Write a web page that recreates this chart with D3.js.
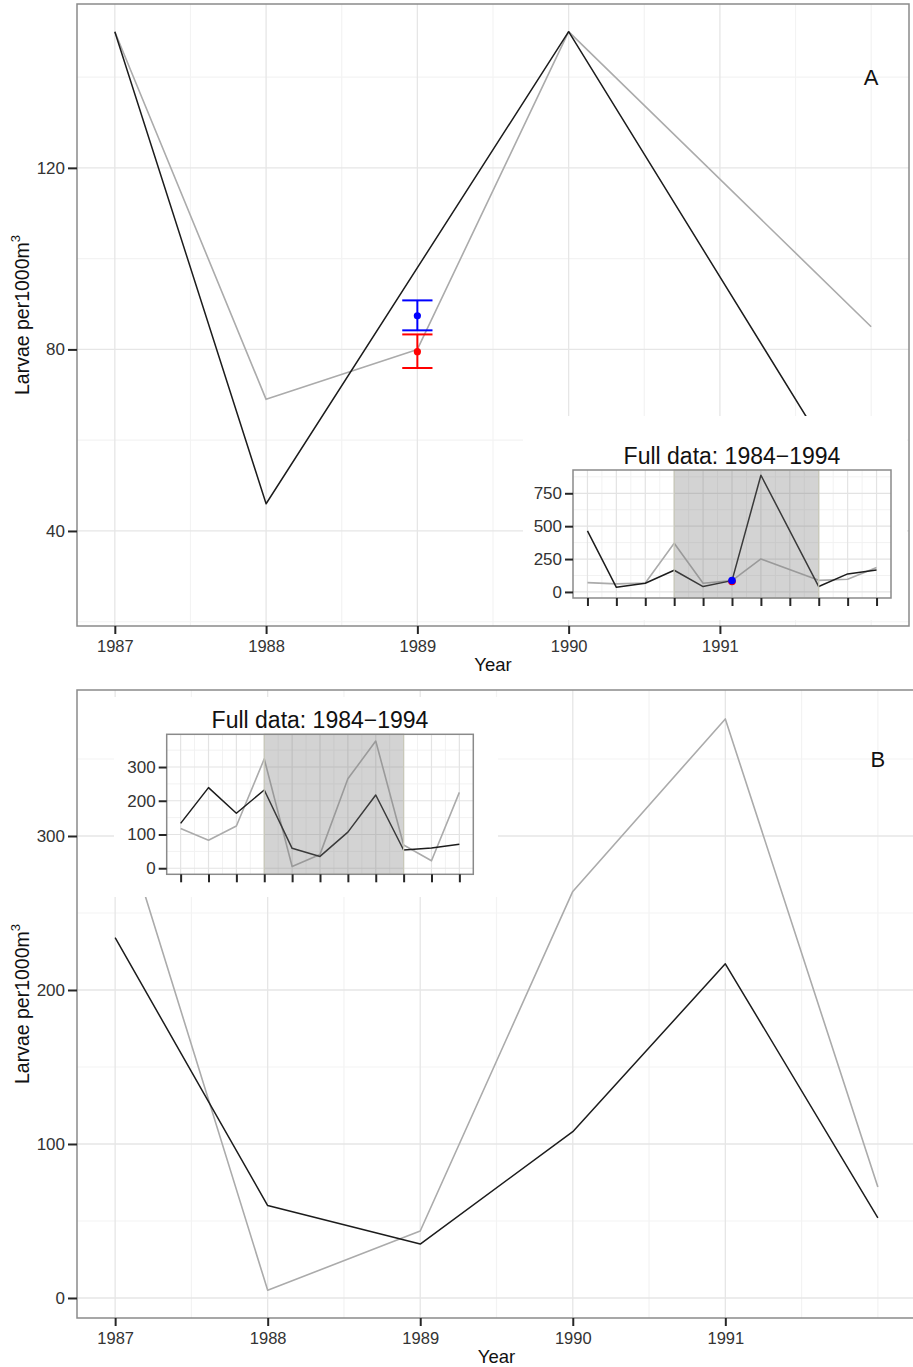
<!DOCTYPE html>
<html>
<head>
<meta charset="utf-8">
<script src="https://cdn.jsdelivr.net/npm/d3@7"></script>
<style>
  body { margin: 0; background: #fff; }
  text { font-family: "Liberation Sans", Arial, Helvetica, sans-serif; }
</style>
</head>
<body>
<script>
// years in the zoomed panels
const years = [1987, 1988, 1989, 1990, 1991, 1992];
const yearTicks = [1987, 1988, 1989, 1990, 1991];
// years in the small "full data" insets
const fullYears = [1984, 1985, 1986, 1987, 1988, 1989, 1990, 1991, 1992, 1993, 1994];
const shadeYears = [1987, 1992];

// panel A (null = no observation that year)
const blackA = [150, 46, null, 150, null, 42];
const greyA = [150, 69, 80, 150, null, 85];
const ticksA = [40, 80, 120];
const minorA = [20, 60, 100, 140];

// estimates for 1989: [mean, lower, upper]
const estYear = 1989;
const blueEst = [87.4, 84.2, 90.8];
const redEst = [79.5, 75.9, 83.3];

// panel A inset, 1984-1994
const fullBlackA = [464, 35, 66, 165, 41, 86, 887, null, 41, 137, 167];
const fullGreyA = [71, 61, 68, 370, 66, 86, 251, null, 88, 96, 185];
const fullTicksA = [0, 250, 500, 750];
const fullMinorA = [125, 375, 625, 875];

// panel B
const blackB = [234, 60, 35, 108, 217, 52];
const greyB = [324, 5, 43.5, 264, 376, 72];
const ticksB = [0, 100, 200, 300];
const minorB = [50, 150, 250, 350];

// panel B inset, 1984-1994
const fullBlackB = [133, 239, 163, 232, 59, 35, 107, 217, 54, 60, 71];
const fullGreyB = [118, 83, 125, 324, 5, 41, 265, 377, 69, 22, 225];
const fullTicksB = [0, 100, 200, 300];
const fullMinorB = [50, 150, 250, 350];

const svg = d3.select('body').append('svg')
  .attr('width', 913)
  .attr('height', 1367);

const pairs = (xs, ys) => xs.map((x, i) => [x, ys[i]]).filter(d => d[1] != null);

const BLACK = '#1c1c1c';
const GREY = '#ababab';
const TEXT = '#333';

function grid(g, x, y, xs, ys, colour, width) {
  const [x0, x1] = x.range();
  const [y1, y0] = y.range();
  g.selectAll(null).data(xs.filter(v => x(v) > x0 && x(v) < x1)).enter()
    .append('line')
      .attr('x1', d => x(d)).attr('x2', d => x(d))
      .attr('y1', y0).attr('y2', y1)
      .attr('stroke', colour).attr('stroke-width', width);
  g.selectAll(null).data(ys.filter(v => y(v) > y0 && y(v) < y1)).enter()
    .append('line')
      .attr('y1', d => y(d)).attr('y2', d => y(d))
      .attr('x1', x0).attr('x2', x1)
      .attr('stroke', colour).attr('stroke-width', width);
}

function drawLine(g, x, y, data, colour, width) {
  g.append('path')
    .datum(data)
    .attr('fill', 'none')
    .attr('stroke', colour)
    .attr('stroke-width', width)
    .attr('stroke-linejoin', 'round')
    .attr('d', d3.line().x(d => x(d[0])).y(d => y(d[1])));
}

function styleAxis(ax, size) {
  ax.select('.domain').remove();
  ax.selectAll('.tick line').attr('stroke', '#262626').attr('stroke-width', 2);
  ax.selectAll('.tick text')
    .attr('fill', TEXT)
    .attr('font-size', size)
    .attr('font-family', '"Liberation Sans", Arial, sans-serif');
}

// one of the two big panels
function mainPanel(o) {
  const x = d3.scaleLinear().domain([1986.75, 1992.25]).range([o.left, o.right]);
  const y = d3.scaleLinear().domain(o.yDomain).range([o.bottom, o.top]);
  const g = svg.append('g');

  g.append('rect')
    .attr('x', o.left).attr('y', o.top)
    .attr('width', o.right - o.left).attr('height', o.bottom - o.top)
    .attr('fill', '#fff');

  const minorX = d3.range(1987.5, 1992, 1).concat([1992]);
  grid(g, x, y, minorX, o.minor, '#f3f3f3', 1.2);
  grid(g, x, y, yearTicks, o.ticks, '#e6e6e6', 1.3);

  const clip = 'clip' + o.name;
  g.append('clipPath').attr('id', clip)
    .append('rect')
      .attr('x', o.left).attr('y', o.top)
      .attr('width', o.right - o.left).attr('height', o.bottom - o.top);
  const lines = g.append('g').attr('clip-path', `url(#${clip})`);
  drawLine(lines, x, y, pairs(years, o.grey), GREY, 1.6);
  drawLine(lines, x, y, pairs(years, o.black), BLACK, 1.5);

  if (o.est) {
    o.est.forEach(e => {
      const [m, lo, hi] = e.values;
      const eb = g.append('g').attr('stroke', e.colour).attr('stroke-width', 2);
      eb.append('line')
        .attr('x1', x(estYear)).attr('x2', x(estYear))
        .attr('y1', y(lo)).attr('y2', y(hi));
      [lo, hi].forEach(v => {
        eb.append('line')
          .attr('x1', x(estYear - 0.1)).attr('x2', x(estYear + 0.1))
          .attr('y1', y(v)).attr('y2', y(v));
      });
      g.append('circle')
        .attr('cx', x(estYear)).attr('cy', y(m)).attr('r', 3.6)
        .attr('fill', e.colour);
    });
  }

  g.append('text')
    .attr('x', x(1992)).attr('y', y(o.letterY))
    .attr('dy', '0.36em')
    .attr('text-anchor', 'middle')
    .attr('font-size', 22)
    .attr('fill', '#111')
    .text(o.name);

  g.append('rect')
    .attr('x', o.left).attr('y', o.top)
    .attr('width', o.right - o.left).attr('height', o.bottom - o.top)
    .attr('fill', 'none').attr('stroke', '#8a8a8a').attr('stroke-width', 1.5);

  const xAxis = g.append('g')
    .attr('transform', `translate(0, ${o.bottom})`)
    .call(d3.axisBottom(x).tickValues(yearTicks).tickSize(8).tickPadding(6).tickFormat(d3.format('d')));
  styleAxis(xAxis, 16.5);

  const yAxis = g.append('g')
    .attr('transform', `translate(${o.left}, 0)`)
    .call(d3.axisLeft(y).tickValues(o.ticks).tickSize(9).tickPadding(3));
  styleAxis(yAxis, 17);

  g.append('text')
    .attr('x', (o.left + o.right) / 2).attr('y', o.bottom + 45)
    .attr('text-anchor', 'middle')
    .attr('font-size', 18.5)
    .attr('fill', '#111')
    .text('Year');

  const yt = g.append('text')
    .attr('transform', `translate(29, ${(o.top + o.bottom) / 2}) rotate(-90)`)
    .attr('text-anchor', 'middle')
    .attr('font-size', 19.5)
    .attr('fill', '#111');
  yt.append('tspan').text('Larvae per1000m');
  yt.append('tspan').attr('font-size', 13).attr('dy', -9).text('3');

  return { x, y };
}

// small "full data" plot printed on top of a panel
function inset(o) {
  const g = svg.append('g');
  g.append('rect')
    .attr('x', o.vp[0]).attr('y', o.vp[1])
    .attr('width', o.vp[2]).attr('height', o.vp[3])
    .attr('fill', '#fff');

  const x = d3.scaleLinear().domain([1983.5, 1994.5]).range([o.left, o.right]);
  const y = d3.scaleLinear().domain(o.yDomain).range([o.bottom, o.top]);

  g.append('rect')
    .attr('x', o.left).attr('y', o.top)
    .attr('width', o.right - o.left).attr('height', o.bottom - o.top)
    .attr('fill', '#fff');

  grid(g, x, y, d3.range(1984.5, 1994, 1), o.minor, '#f2f2f2', 1);
  grid(g, x, y, fullYears, o.ticks, '#e3e3e3', 1.2);

  drawLine(g, x, y, pairs(fullYears, o.grey), GREY, 1.6);
  drawLine(g, x, y, pairs(fullYears, o.black), BLACK, 1.5);

  // highlighted window shown in the big panel
  g.append('rect')
    .attr('x', x(shadeYears[0])).attr('y', o.top)
    .attr('width', x(shadeYears[1]) - x(shadeYears[0]))
    .attr('height', o.bottom - o.top)
    .attr('fill', '#7a7a7a').attr('fill-opacity', 0.33)
    .attr('stroke', '#c9c9b9').attr('stroke-width', 1.2);

  if (o.est) {
    o.est.forEach(e => {
      g.append('circle')
        .attr('cx', x(estYear)).attr('cy', y(e.values[0])).attr('r', 3.8)
        .attr('fill', e.colour);
    });
  }

  g.append('rect')
    .attr('x', o.left).attr('y', o.top)
    .attr('width', o.right - o.left).attr('height', o.bottom - o.top)
    .attr('fill', 'none').attr('stroke', '#8a8a8a').attr('stroke-width', 1.5);

  const xAxis = g.append('g')
    .attr('transform', `translate(0, ${o.bottom})`)
    .call(d3.axisBottom(x).tickValues(fullYears).tickSize(8).tickFormat(''));
  styleAxis(xAxis, 16);

  const yAxis = g.append('g')
    .attr('transform', `translate(${o.left}, 0)`)
    .call(d3.axisLeft(y).tickValues(o.ticks).tickSize(8).tickPadding(3));
  styleAxis(yAxis, 17);

  g.append('text')
    .attr('x', (o.left + o.right) / 2).attr('y', o.top - 6)
    .attr('text-anchor', 'middle')
    .attr('font-size', 23)
    .attr('fill', '#111')
    .text('Full data: 1984\u22121994');
}

const est = [
  { colour: '#0000ff', values: blueEst },
  { colour: '#ff0000', values: redEst }
];

mainPanel({
  name: 'A', left: 77, right: 909, top: 4, bottom: 626,
  yDomain: [19.06, 156.1], ticks: ticksA, minor: minorA,
  black: blackA, grey: greyA, est: [est[1], est[0]], letterY: 140
});

inset({
  vp: [523, 416, 384, 204],
  left: 573, right: 891, top: 470, bottom: 598,
  yDomain: [-46, 927], ticks: fullTicksA, minor: fullMinorA,
  black: fullBlackA, grey: fullGreyA, est: [est[1], est[0]]
});

mainPanel({
  name: 'B', left: 77, right: 916, top: 690, bottom: 1318,
  yDomain: [-13, 394.8], ticks: ticksB, minor: minorB,
  black: blackB, grey: greyB, letterY: 350
});

inset({
  vp: [114, 697, 384, 200],
  left: 166.7, right: 473.3, top: 734.3, bottom: 874.3,
  yDomain: [-18, 397], ticks: fullTicksB, minor: fullMinorB,
  black: fullBlackB, grey: fullGreyB
});
</script>
</body>
</html>
